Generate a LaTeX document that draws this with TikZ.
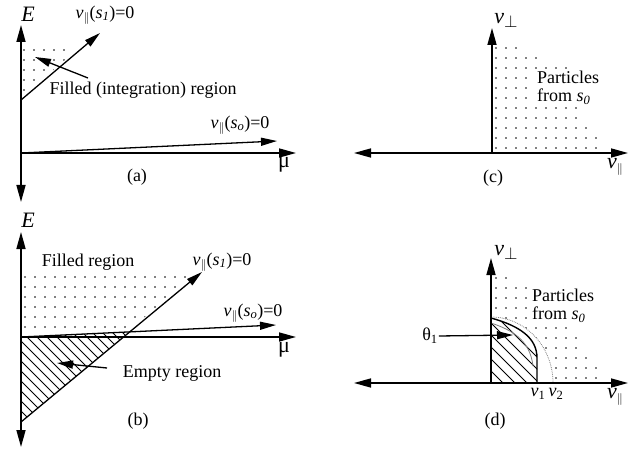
\documentclass[tikz,border=0pt]{standalone}
\usepackage{fontspec}
\setmainfont{Liberation Serif}
\usetikzlibrary{arrows.meta}
\tikzstyle{axis} = [line width = 1.6pt, -{Triangle[length = 17pt, width = 9pt]}]
\tikzstyle{axisboth} = [line width = 1.6pt, {Triangle[length = 17pt, width = 9pt]}-{Triangle[length = 17pt, width = 9pt]}]
\tikzstyle{arrow} = [line width = 1.3pt, -{Triangle[length = 16pt, width = 8pt]}]
\tikzstyle{lbl} = [inner sep = 1pt, font = \fontsize{18}{20}\selectfont]
\tikzstyle{biglbl} = [inner sep = 1pt, font = \fontsize{22}{24}\selectfont]
\tikzstyle{hatch} = [line width = 0.9pt]
\tikzstyle{dot} = [fill = black]
\newcommand{\vpar}{\textit{v}\raisebox{-0.35ex}{\fontsize{13}{13}\selectfont$\|$}}
\newcommand{\vperp}{\textit{v}\raisebox{-0.4ex}{\fontsize{18}{18}\selectfont$\perp$}}
\begin{document}
\begin{tikzpicture}[x = 1pt, y = -1pt]
\useasboundingbox (0,0) rectangle (629,449);

% (a)
\coordinate (Oa) at (21,153);
\coordinate (Ta) at (21,25);
\coordinate (Ba) at (21,202);
\coordinate (Ra) at (296,153);
\coordinate (S1a) at (21,100);
\coordinate (S1aEnd) at (100,33);
\coordinate (SoaEnd) at (277,141);
\coordinate (FillTail) at (88,78);
\coordinate (FillTip) at (35,57);

\begin{scope}
	\clip (21,46) rectangle (70,100);
	\clip (18,100) -- (97,33) -- (18,33) -- cycle;
	\foreach \x in {24,34,...,64}
		\foreach \y in {50,60,...,90}
			\fill [dot] (\x,\y) circle (0.9pt);
\end{scope}

\draw [axisboth] (Ba) -- (Ta);
\draw [axis] (Oa) -- (Ra);
\draw [arrow] (S1a) -- (S1aEnd);
\draw [arrow] (Oa) -- (SoaEnd);
\draw [arrow] (FillTail) -- (FillTip);

\node (Ea) [biglbl] at (28,14) {\textit{E}};
\node (s1A) [lbl] at (105,15) {\vpar(\textit{s}\textsubscript{\textit{1}})=0};
\node (fillA) [lbl] at (143,90) {Filled (integration) region};
\node (soA) [lbl] at (240,125) {\vpar(\textit{s}\textsubscript{\textit{o}})=0};
\node (muA) [biglbl] at (284,165) {μ};
\node (capA) [lbl] at (137,177) {(a)};

% (b)
\coordinate (Ob) at (21,337);
\coordinate (Tb) at (21,232);
\coordinate (Bb) at (21,447);
\coordinate (Rb) at (296,337);
\coordinate (S1b) at (21,422);
\coordinate (S1bEnd) at (202,272);
\coordinate (SobEnd) at (276,325);
\coordinate (Xb) at (129.7,331.9);
\coordinate (EmptyTail) at (107,368);
\coordinate (EmptyTip) at (57,363);

\begin{scope}
	\clip (21,270) rectangle (205,333);
	\clip (18,422) -- (199,272) -- (18,272) -- cycle;
	\foreach \x in {25,35,...,195}
		\foreach \y in {277,287,...,327}
			\fill [dot] (\x,\y) circle (0.9pt);
\end{scope}

\begin{scope}
	\clip (Ob) -- (Xb) -- (S1b) -- cycle;
	\foreach \c in {-410,-400,...,-200}
		\draw [hatch] ({\c+300},300) -- ({\c+450},450);
\end{scope}

\draw [axisboth] (Bb) -- (Tb);
\draw [axis] (Ob) -- (Rb);
\draw [arrow] (S1b) -- (S1bEnd);
\draw [arrow] (Ob) -- (SobEnd);
\draw [arrow] (EmptyTail) -- (EmptyTip);

\node (Eb) [biglbl] at (28,220) {\textit{E}};
\node (fillB) [lbl] at (88,262) {Filled region};
\node (s1B) [lbl] at (222,262) {\vpar(\textit{s}\textsubscript{\textit{1}})=0};
\node (soB) [lbl] at (253,313) {\vpar(\textit{s}\textsubscript{\textit{o}})=0};
\node (muB) [biglbl] at (284,350) {μ};
\node (emptyB) [lbl] at (172,373) {Empty region};
\node (capB) [lbl] at (138,421) {(b)};

% (c)
\coordinate (Oc) at (492,153);
\coordinate (Tc) at (492,28);
\coordinate (Lc) at (354,153);
\coordinate (Rc) at (628,153);

\foreach \dy/\xm in {5/605, 15/600, 25/595, 35/585, 45/585, 55/575, 65/575, 75/575, 85/575, 95/545, 105/525}
	\foreach \x in {496,506,...,\xm}
		\fill [dot] (\x,153-\dy) circle (0.9pt);

\node (partC) [lbl, fill = white, align = left, anchor = west, inner sep = 2pt] at (535,88)
	{Particles\\[-2pt]from \textit{s}\textsubscript{\textit{0}}};

\draw [axisboth] (Lc) -- (Rc);
\draw [axis] (Oc) -- (Tc);

\node (vperpC) [biglbl] at (506,20) {\vperp};
\node (vparC) [biglbl] at (615,167) {\vpar};
\node (capC) [lbl] at (493,178) {(c)};

% (d)
\coordinate (Od) at (491,383);
\coordinate (Td) at (491,258);
\coordinate (Ld) at (354,383);
\coordinate (Rd) at (628,383);
\coordinate (ArcTop) at (491,317);
\coordinate (ArcEnd) at (553,383);
\coordinate (HatchTop) at (491,318);
\coordinate (HatchEnd) at (537,383);
\coordinate (ThetaTip) at (513,335);

\foreach \dy/\xm in {5/605, 15/600, 25/595, 35/585, 45/585, 55/575, 65/575, 75/575, 85/575, 95/535, 105/515}
	\foreach \x in {496,506,...,\xm}
		\fill [dot] (\x,383-\dy) circle (0.9pt);

\fill [white] (Od) -- (ArcTop) .. controls (525.2,317) and (553,346.6) .. (ArcEnd) -- cycle;
\draw [densely dotted, gray, line width = 0.8pt] (ArcTop) .. controls (525.2,317) and (553,346.6) .. (ArcEnd);

\fill [white] (Od) -- (HatchTop) .. controls (520,326) and (537,338) .. (537,358) -- (HatchEnd) -- cycle;
\begin{scope}
	\clip (Od) -- (HatchTop) .. controls (520,326) and (537,338) .. (537,358) -- (HatchEnd) -- cycle;
	\foreach \c in {96,108,...,228}
		\draw [hatch] ({\c+300},300) -- ({\c+400},400);
\end{scope}
\draw [gray, line width = 0.8pt] (491,323) .. controls (512,330) and (530,340) .. (533,366);
\draw [line width = 1.4pt] (HatchTop) .. controls (520,326) and (537,338) .. (537,358) -- (HatchEnd);

\node (partD) [lbl, fill = white, align = left, anchor = west, inner sep = 2pt] at (530,306)
	{Particles\\[-2pt]from \textit{s}\textsubscript{\textit{0}}};

\draw [axisboth] (Ld) -- (Rd);
\draw [axis] (Od) -- (Td);

\node (thetaD) [lbl] at (430,336) {θ\textsubscript{1}};
\draw [arrow] (thetaD.east) -- (ThetaTip);

\node (v1D) [lbl] at (538,394) {\textit{v}\textsubscript{1}};
\node (v2D) [lbl] at (556,394) {\textit{v}\textsubscript{2}};
\node (vperpD) [biglbl] at (506,252) {\vperp};
\node (vparD) [biglbl] at (615,397) {\vpar};
\node (capD) [lbl] at (495,421) {(d)};
\end{tikzpicture}
\end{document}
